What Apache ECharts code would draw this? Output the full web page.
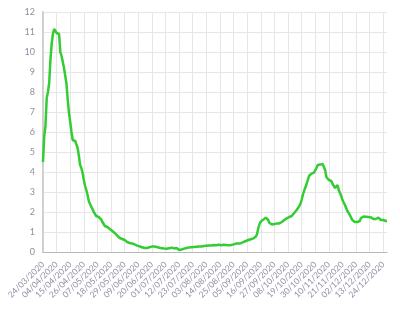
<!DOCTYPE html>
<html>
<head>
<meta charset="utf-8">
<script src="https://cdn.jsdelivr.net/npm/echarts@6/dist/echarts.min.js"></script>
<style>html,body{margin:0;padding:0;background:#fff}#c{width:400px;height:312px}</style>
</head>
<body>
<div id="c"></div>
<script>
var startDate = '2020-03-24';
var values = [
4.5, 5.8, 6.3, 7.7, 8.0, 8.45, 9.6, 10.4, 10.9, 11.15,
11.05, 10.95, 10.9, 10.9, 10.0, 9.8, 9.5, 9.2, 9.1, 8.4,
7.6, 6.95, 6.5, 6.0, 5.6, 5.55, 5.55, 5.5, 5.2, 4.8,
4.35, 4.2, 3.95, 3.6, 3.3, 3.1, 2.85, 2.55, 2.4, 2.27,
2.15, 2.0, 1.9, 1.8, 1.75, 1.75, 1.7, 1.63, 1.5, 1.4,
1.3, 1.28, 1.25, 1.2, 1.15, 1.1, 1.05, 1.0, 0.95, 0.88,
0.82, 0.77, 0.7, 0.66, 0.65, 0.62, 0.6, 0.55, 0.5, 0.47,
0.45, 0.43, 0.43, 0.42, 0.38, 0.35, 0.32, 0.3, 0.28, 0.26,
0.24, 0.22, 0.2, 0.19, 0.2, 0.22, 0.24, 0.26, 0.27, 0.28,
0.27, 0.26, 0.25, 0.23, 0.21, 0.2, 0.19, 0.18, 0.17, 0.17,
0.16, 0.17, 0.19, 0.2, 0.22, 0.2, 0.18, 0.17, 0.2, 0.15,
0.1, 0.07, 0.12, 0.15, 0.17, 0.18, 0.2, 0.22, 0.23, 0.24,
0.24, 0.25, 0.25, 0.26, 0.26, 0.27, 0.27, 0.28, 0.28, 0.29,
0.3, 0.3, 0.31, 0.31, 0.32, 0.32, 0.33, 0.34, 0.35, 0.34,
0.34, 0.35, 0.36, 0.35, 0.34, 0.35, 0.36, 0.36, 0.35, 0.35,
0.34, 0.33, 0.35, 0.37, 0.38, 0.4, 0.42, 0.43, 0.42, 0.4,
0.44, 0.48, 0.5, 0.52, 0.55, 0.57, 0.6, 0.62, 0.64, 0.65,
0.68, 0.72, 0.77, 0.9, 1.2, 1.4, 1.52, 1.55, 1.62, 1.7,
1.72, 1.7, 1.6, 1.45, 1.35, 1.38, 1.4, 1.4, 1.42, 1.43,
1.42, 1.43, 1.45, 1.5, 1.55, 1.6, 1.65, 1.68, 1.72, 1.75,
1.78, 1.8, 1.85, 1.95, 2.05, 2.1, 2.2, 2.28, 2.4, 2.6,
2.85, 3.05, 3.15, 3.4, 3.6, 3.8, 3.9, 3.92, 3.95, 3.97,
4.05, 4.2, 4.35, 4.38, 4.37, 4.4, 4.4, 4.35, 4.1, 3.75,
3.65, 3.6, 3.58, 3.55, 3.4, 3.3, 3.2, 3.3, 3.35, 3.1,
2.95, 2.8, 2.6, 2.5, 2.35, 2.2, 2.05, 1.95, 1.85, 1.72,
1.6, 1.52, 1.5, 1.5, 1.5, 1.52, 1.55, 1.7, 1.75, 1.77,
1.78, 1.76, 1.8, 1.75, 1.77, 1.73, 1.7, 1.65, 1.62, 1.65,
1.7, 1.72, 1.68, 1.6, 1.58, 1.6, 1.57, 1.55, 1.55
];
var yTicks = {min: 0, max: 12, interval: 1};

function pad(n){return n < 10 ? '0' + n : '' + n;}
var categories = [];
var d0 = new Date(startDate + 'T12:00:00Z');
for (var i = 0; i < values.length; i++) {
  var d = new Date(d0.getTime() + i * 86400000);
  categories.push(pad(d.getUTCDate()) + '/' + pad(d.getUTCMonth() + 1) + '/' + d.getUTCFullYear());
}

var chart = echarts.init(document.getElementById('c'), null, {renderer: 'canvas'});
chart.setOption({
  animation: false,
  grid: {left: 43, right: 13, top: 12, bottom: 60, containLabel: false},
  xAxis: {
    type: 'category',
    data: categories,
    boundaryGap: false,
    axisLine: {lineStyle: {color: '#b8b8b8'}},
    axisTick: {show: false},
    axisLabel: {interval: 10, rotate: 45, color: '#8e8ea2', fontSize: 8.5, fontFamily: 'Lato', margin: 11},
    splitLine: {show: true, interval: 10, lineStyle: {color: '#e6e6e6'}}
  },
  yAxis: {
    type: 'value',
    min: yTicks.min, max: yTicks.max, interval: yTicks.interval,
    axisLine: {show: true, lineStyle: {color: '#d0d0d0', width: 2}},
    axisTick: {show: false},
    axisLabel: {color: '#8e8ea2', fontSize: 9, fontFamily: 'Lato', margin: 8},
    splitLine: {lineStyle: {color: '#e6e6e6'}}
  },
  series: [{
    type: 'line',
    data: values,
    showSymbol: false,
    lineStyle: {color: '#33cc33', width: 2.5},
    itemStyle: {color: '#33cc33'}
  }]
});
</script>
</body>
</html>
